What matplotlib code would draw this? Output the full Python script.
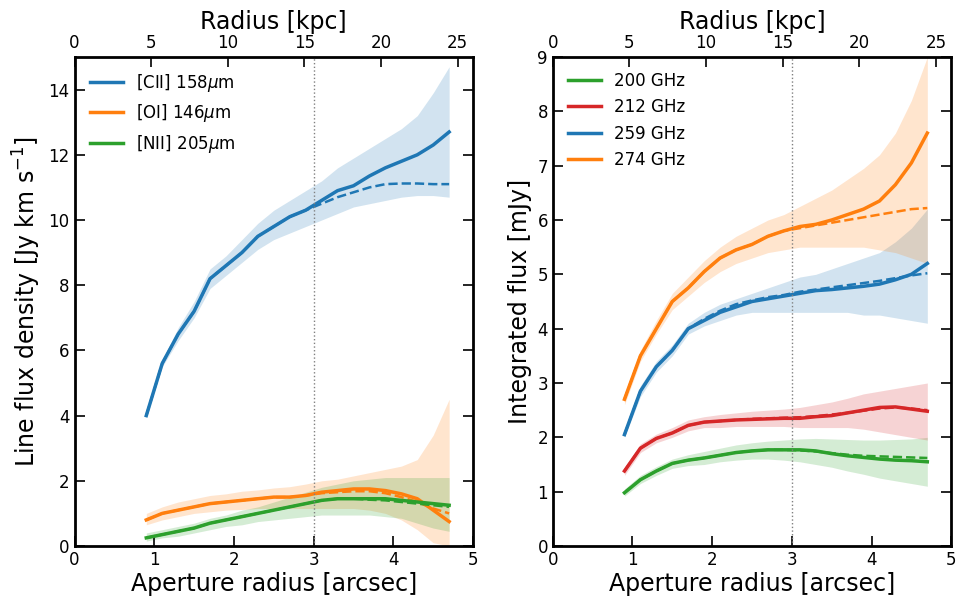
import numpy as np
import matplotlib
matplotlib.use("Agg")
import matplotlib.pyplot as plt

r = np.round(np.arange(0.9, 4.71, 0.2), 2)
KPC = 5.2

cii = [4.0,5.6,6.5,7.2,8.2,8.6,9.0,9.5,9.8,10.1,10.3,10.6,10.9,11.05,11.35,11.6,11.8,12.0,12.3,12.7]
cii_d = [4.0,5.6,6.5,7.2,8.2,8.6,9.0,9.5,9.8,10.1,10.3,10.5,10.7,10.85,11.0,11.1,11.12,11.12,11.1,11.1]
cii_lo = [4.0,5.5,6.3,7.0,7.9,8.3,8.7,9.1,9.4,9.6,9.8,10.0,10.2,10.4,10.5,10.6,10.7,10.75,10.75,10.7]
cii_hi = [4.0,5.7,6.7,7.5,8.5,8.9,9.4,9.9,10.3,10.6,10.9,11.2,11.6,11.9,12.2,12.5,12.8,13.2,13.9,14.7]

oi = [0.8,1.0,1.1,1.2,1.3,1.35,1.4,1.45,1.5,1.5,1.55,1.65,1.7,1.75,1.75,1.7,1.6,1.45,1.1,0.75]
oi_d = [0.8,1.0,1.1,1.2,1.3,1.35,1.4,1.45,1.5,1.5,1.55,1.62,1.65,1.68,1.68,1.62,1.5,1.35,1.15,1.0]
oi_lo = [0.65,0.8,0.9,1.0,1.05,1.1,1.12,1.15,1.15,1.15,1.15,1.15,1.15,1.15,1.1,1.0,0.8,0.5,0.1,0.0]
oi_hi = [1.0,1.2,1.35,1.45,1.55,1.6,1.68,1.72,1.78,1.82,1.9,2.0,2.05,2.15,2.25,2.35,2.45,2.65,3.4,4.5]

nii = [0.25,0.35,0.45,0.55,0.7,0.8,0.9,1.0,1.1,1.2,1.3,1.4,1.45,1.45,1.45,1.45,1.4,1.35,1.3,1.25]
nii_d = [0.25,0.35,0.45,0.55,0.7,0.8,0.9,1.0,1.1,1.2,1.3,1.4,1.45,1.45,1.42,1.4,1.35,1.3,1.25,1.2]
nii_lo = [0.15,0.25,0.3,0.4,0.5,0.6,0.65,0.75,0.8,0.85,0.9,0.95,0.95,0.95,0.95,0.9,0.85,0.7,0.55,0.45]
nii_hi = [0.4,0.5,0.6,0.7,0.85,0.95,1.1,1.2,1.35,1.5,1.65,1.8,1.9,2.0,2.05,2.1,2.1,2.1,2.1,2.1]

f274 = [2.7,3.5,4.0,4.5,4.75,5.05,5.3,5.45,5.55,5.7,5.8,5.88,5.92,6.0,6.1,6.2,6.35,6.65,7.05,7.6]
f274_d = [2.7,3.5,4.0,4.5,4.75,5.05,5.3,5.45,5.55,5.7,5.8,5.85,5.9,5.95,6.0,6.05,6.1,6.15,6.2,6.22]
f274_lo = [2.6,3.4,3.9,4.35,4.6,4.85,5.05,5.2,5.3,5.4,5.45,5.5,5.5,5.5,5.5,5.5,5.45,5.4,5.3,5.2]
f274_hi = [2.8,3.6,4.15,4.65,4.95,5.25,5.5,5.7,5.85,6.0,6.1,6.25,6.4,6.55,6.75,6.95,7.2,7.6,8.2,9.0]

f259 = [2.05,2.85,3.3,3.6,4.0,4.15,4.3,4.4,4.5,4.55,4.6,4.65,4.7,4.72,4.75,4.78,4.82,4.9,5.0,5.2]
f259_d = [2.05,2.85,3.3,3.6,4.0,4.18,4.33,4.45,4.52,4.58,4.62,4.68,4.72,4.76,4.8,4.84,4.88,4.93,4.98,5.02]
f259_lo = [2.0,2.75,3.2,3.5,3.9,4.05,4.15,4.25,4.3,4.3,4.3,4.3,4.3,4.3,4.3,4.25,4.25,4.2,4.15,4.1]
f259_hi = [2.1,2.95,3.4,3.7,4.1,4.3,4.45,4.55,4.65,4.75,4.85,4.95,5.0,5.1,5.2,5.3,5.4,5.6,5.85,6.2]

f212 = [1.38,1.8,1.98,2.08,2.22,2.28,2.3,2.32,2.33,2.34,2.35,2.35,2.38,2.4,2.45,2.5,2.55,2.56,2.52,2.48]
f212_d = [1.38,1.8,1.98,2.08,2.22,2.28,2.3,2.32,2.34,2.35,2.36,2.37,2.39,2.42,2.45,2.49,2.53,2.55,2.53,2.5]
f212_lo = [1.3,1.72,1.9,2.0,2.12,2.18,2.18,2.2,2.2,2.2,2.2,2.18,2.18,2.18,2.18,2.15,2.1,2.05,2.0,1.95]
f212_hi = [1.45,1.88,2.06,2.18,2.32,2.38,2.42,2.45,2.48,2.5,2.52,2.55,2.6,2.65,2.72,2.8,2.85,2.9,2.95,3.0]

f200 = [0.98,1.22,1.38,1.52,1.58,1.62,1.67,1.72,1.75,1.77,1.77,1.77,1.75,1.7,1.66,1.63,1.6,1.58,1.57,1.55]
f200_d = [0.98,1.22,1.38,1.52,1.58,1.62,1.67,1.72,1.75,1.77,1.77,1.76,1.74,1.71,1.68,1.66,1.65,1.64,1.63,1.62]
f200_lo = [0.92,1.15,1.3,1.43,1.48,1.5,1.55,1.58,1.6,1.6,1.58,1.55,1.5,1.45,1.38,1.32,1.25,1.2,1.15,1.1]
f200_hi = [1.05,1.3,1.46,1.6,1.68,1.74,1.8,1.86,1.9,1.93,1.95,1.97,1.98,1.97,1.96,1.95,1.95,1.96,1.97,2.0]

C = {'b':'#1f77b4','o':'#ff7f0e','g':'#2ca02c','r':'#d62728'}
plt.rcParams['font.family'] = 'DejaVu Sans'
fig, axes = plt.subplots(1, 2, figsize=(9.56, 6.0), dpi=100)
fig.subplots_adjust(left=0.078, right=0.995, bottom=0.09, top=0.905, wspace=0.2)

def panel(ax, series, ylim, yticks, ylabel):
    for lab, y, yd, lo, hi, c in series:
        ax.fill_between(r, lo, hi, color=c, alpha=0.2, lw=0)
        ax.plot(r, yd, '--', color=c, lw=1.8)
        ax.plot(r, y, '-', color=c, lw=2.5, label=lab)
    ax.axvline(3, color='gray', ls=':', lw=1)
    ax.set_xlim(0, 5); ax.set_ylim(*ylim)
    ax.set_xticks([0,1,2,3,4,5]); ax.set_yticks(yticks)
    ax.tick_params(direction='in', length=7, width=1.2, labelsize=12, top=False, right=True)
    for s in ax.spines.values(): s.set_linewidth(2)
    ax.set_xlabel('Aperture radius [arcsec]', fontsize=17, labelpad=2)
    ax.set_ylabel(ylabel, fontsize=17)
    sec = ax.secondary_xaxis('top', functions=(lambda x: x*KPC, lambda k: k/KPC))
    sec.set_xticks([0,5,10,15,20,25])
    sec.tick_params(direction='in', length=7, width=1.2, labelsize=12)
    sec.set_xlabel('Radius [kpc]', fontsize=17, labelpad=4)
    ax.legend(loc='upper left', frameon=False, fontsize=12, handlelength=2.0)

panel(axes[0], [(r'[CII] 158$\mu$m', cii, cii_d, cii_lo, cii_hi, C['b']),
                (r'[OI] 146$\mu$m', oi, oi_d, oi_lo, oi_hi, C['o']),
                (r'[NII] 205$\mu$m', nii, nii_d, nii_lo, nii_hi, C['g'])],
      (0, 15), [0,2,4,6,8,10,12,14], r'Line flux density [Jy km s$^{-1}$]')
panel(axes[1], [('200 GHz', f200, f200_d, f200_lo, f200_hi, C['g']),
                ('212 GHz', f212, f212_d, f212_lo, f212_hi, C['r']),
                ('259 GHz', f259, f259_d, f259_lo, f259_hi, C['b']),
                ('274 GHz', f274, f274_d, f274_lo, f274_hi, C['o'])],
      (0, 9), list(range(10)), 'Integrated flux [mJy]')
fig.savefig('out.png')
